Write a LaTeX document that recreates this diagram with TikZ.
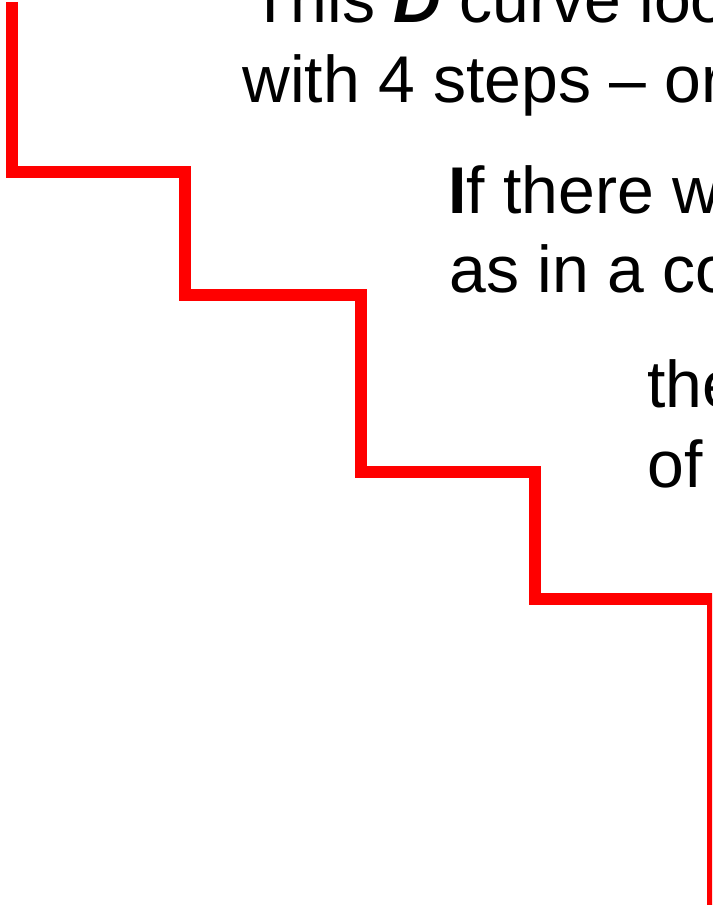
\documentclass[tikz,border=0pt]{standalone}
\usepackage{fontspec}
\setmainfont{Liberation Sans}
\tikzset{
  txt/.style={anchor=base west, inner sep=0pt, font=\fontsize{47}{57}\selectfont},
  stair/.style={red, line width=8.5pt, line join=miter}
}
\begin{document}
\begin{tikzpicture}[x=0.025cm, y=-0.025cm]
    \useasboundingbox (0,0) rectangle (712,905);
    \clip (0,0) rectangle (712,905);
    % staircase
    \draw[stair] (12,2) -- (12,172) -- (185,172) -- (185,295) -- (361,295)
        -- (361,472) -- (535,472) -- (535,599) -- (713,599) -- (713,920);
    % text blocks
    \node[txt] (l1) at (250,23) {This \textbf{\textit{D}} curve loo};
    \node[txt] (l2) at (242,103) {with 4 steps -- or};
    \node[txt] (l3) at (448,214) {\textbf{I}f there w};
    \node[txt] (l4) at (449,293) {as in a co};
    \node[txt] (l5) at (647,407) {the};
    \node[txt] (l6) at (647,487) {of};
\end{tikzpicture}
\end{document}
